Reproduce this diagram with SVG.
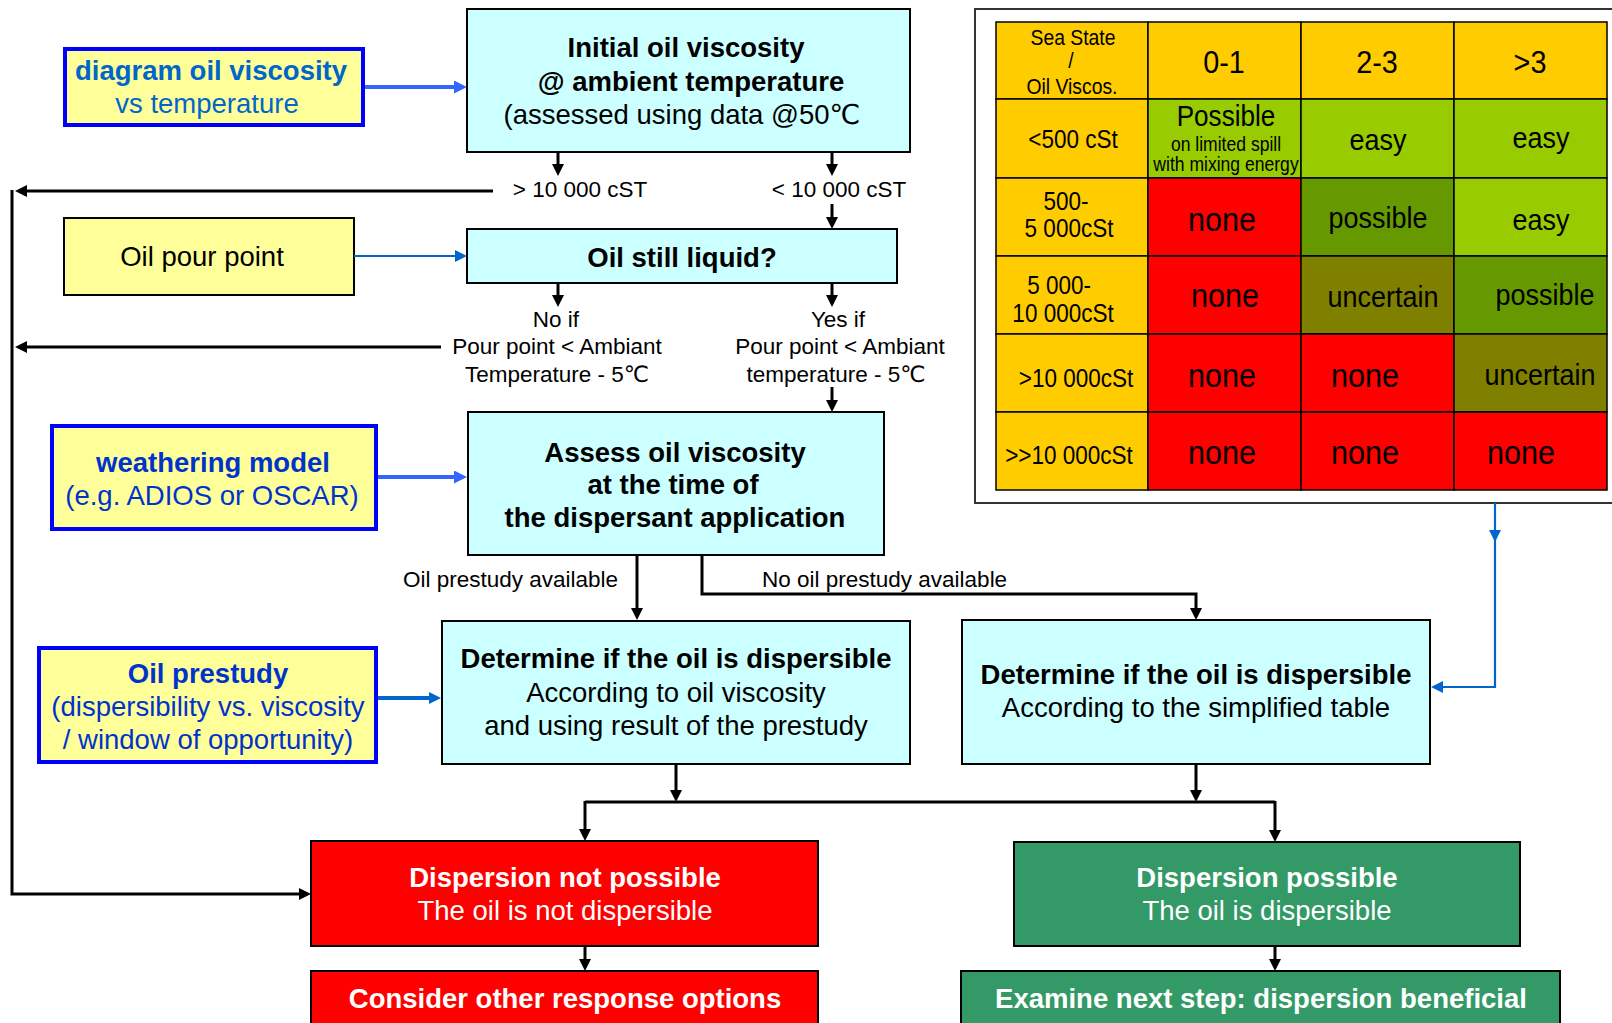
<svg xmlns="http://www.w3.org/2000/svg" width="1612" height="1023" viewBox="0 0 1612 1023">
  <style>
    text { font-family: "Liberation Sans", Arial, "DejaVu Sans", sans-serif; fill: #000; }
    .c { text-anchor: middle; }
    .b { font-weight: bold; }
    .f27 { font-size: 27.5px; }
    .f22 { font-size: 22.5px; }
    .w { fill: #fff; }
    .blue1 { fill: #0066CC; }
    .blue2 { fill: #0033CC; }
    .cyan { fill: #CCFFFF; stroke: #000; stroke-width: 2; }
    .yel { fill: #FFFF99; stroke: #000; stroke-width: 2; }
    .yelb { fill: #FFFF99; stroke: #0000FF; stroke-width: 4; }
    .red { fill: #FF0000; stroke: #000; stroke-width: 2; }
    .grn { fill: #339966; stroke: #000; stroke-width: 2; }
    .k { fill: none; stroke: #000; stroke-width: 3; marker-end: url(#ah); }
    .kn { fill: none; stroke: #000; stroke-width: 3; }
    .bl { fill: none; stroke: #3366FF; stroke-width: 4; marker-end: url(#ahb); }
    .bc { fill: none; stroke: #0066CC; stroke-width: 4; marker-end: url(#ahc); }
    .bt { fill: none; stroke: #0066CC; stroke-width: 2.2; marker-end: url(#ahc); }
    .cell { stroke: #000; stroke-width: 1.5; }
    .hd { fill: #FFCC00; }
    .lg { fill: #99CC00; }
    .dg { fill: #669900; }
    .ol { fill: #808000; }
    .rd { fill: #FF0000; }
  </style>
  <defs>
    <marker id="ah" viewBox="0 0 12 12" markerWidth="12" markerHeight="12" refX="8" refY="6" orient="auto" markerUnits="userSpaceOnUse">
      <path d="M0,0 L12,6 L0,12 z" fill="#000"/>
    </marker>
    <marker id="ahb" viewBox="0 0 13 13" markerWidth="13" markerHeight="13" refX="9" refY="6.5" orient="auto" markerUnits="userSpaceOnUse">
      <path d="M0,0 L13,6.5 L0,13 z" fill="#3366FF"/>
    </marker>
    <marker id="ahc" viewBox="0 0 12 12" markerWidth="12" markerHeight="12" refX="8" refY="6" orient="auto" markerUnits="userSpaceOnUse">
      <path d="M0,0 L12,6 L0,12 z" fill="#0066CC"/>
    </marker>
  </defs>

  <rect width="1612" height="1023" fill="#fff"/>

  <!-- input boxes (left column) -->
  <g id="diagram-viscosity">
    <rect class="yelb" x="65" y="49" width="298" height="76"/>
    <text class="c b f27 blue1" x="211" y="80">diagram oil viscosity</text>
    <text class="c f27 blue1" x="207" y="113">vs temperature</text>
  </g>
  <g id="pour-point">
    <rect class="yel" x="64" y="218" width="290" height="77"/>
    <text class="c f27" x="202" y="266">Oil pour point</text>
  </g>
  <g id="weathering-model">
    <rect class="yelb" x="52" y="426" width="324" height="103"/>
    <text class="c b f27 blue2" x="213" y="472">weathering model</text>
    <text class="c f27 blue2" x="212" y="505">(e.g. ADIOS or OSCAR)</text>
  </g>
  <g id="oil-prestudy">
    <rect class="yelb" x="39" y="648" width="337" height="114"/>
    <text class="c b f27 blue2" x="208" y="683">Oil prestudy</text>
    <text class="c f27 blue2" x="208" y="716">(dispersibility vs. viscosity</text>
    <text class="c f27 blue2" x="208" y="749">/ window of opportunity)</text>
  </g>

  <!-- decision boxes -->
  <g id="initial-viscosity">
    <rect class="cyan" x="467" y="9" width="443" height="143"/>
    <text class="c b f27" x="686" y="57">Initial oil viscosity</text>
    <text class="c b f27" x="691" y="91">@ ambient temperature</text>
    <text class="c f27" x="682" y="124">(assessed using data @50℃</text>
  </g>
  <g id="oil-still-liquid">
    <rect class="cyan" x="467" y="229" width="430" height="54"/>
    <text class="c b f27" x="682" y="267">Oil still liquid?</text>
  </g>
  <g id="assess-viscosity">
    <rect class="cyan" x="468" y="412" width="416" height="143"/>
    <text class="c b f27" x="675" y="462">Assess oil viscosity</text>
    <text class="c b f27" x="673" y="494">at the time of</text>
    <text class="c b f27" x="675" y="527">the dispersant application</text>
  </g>
  <g id="determine-prestudy">
    <rect class="cyan" x="442" y="621" width="468" height="143"/>
    <text class="c b f27" x="676" y="668">Determine if the oil is dispersible</text>
    <text class="c f27" x="676" y="702">According to oil viscosity</text>
    <text class="c f27" x="676" y="735">and using result of the prestudy</text>
  </g>
  <g id="determine-table">
    <rect class="cyan" x="962" y="620" width="468" height="144"/>
    <text class="c b f27" x="1196" y="684">Determine if the oil is dispersible</text>
    <text class="c f27" x="1196" y="717">According to the simplified table</text>
  </g>

  <!-- outcome boxes -->
  <g id="not-possible">
    <rect class="red" x="311" y="841" width="507" height="105"/>
    <text class="c b f27 w" x="565" y="887">Dispersion not possible</text>
    <text class="c f27 w" x="565" y="920">The oil is not dispersible</text>
  </g>
  <g id="other-options">
    <rect class="red" x="311" y="971" width="507" height="60"/>
    <text class="c b f27 w" x="565" y="1008">Consider other response options</text>
  </g>
  <g id="possible">
    <rect class="grn" x="1014" y="842" width="506" height="104"/>
    <text class="c b f27 w" x="1267" y="887">Dispersion possible</text>
    <text class="c f27 w" x="1267" y="920">The oil is dispersible</text>
  </g>
  <g id="next-step">
    <rect class="grn" x="961" y="971" width="599" height="60"/>
    <text class="c b f27 w" x="1261" y="1008">Examine next step: dispersion beneficial</text>
  </g>

  <!-- simplified dispersibility table: sea state vs oil viscosity -->
  <g id="sea-state-table">
    <rect x="975" y="9" width="660" height="494" fill="#fff" stroke="#333" stroke-width="2"/>
    <!-- header row -->
    <rect class="cell hd" x="996" y="22" width="152" height="77"/>
    <rect class="cell hd" x="1148" y="22" width="153" height="77"/>
    <rect class="cell hd" x="1301" y="22" width="153" height="77"/>
    <rect class="cell hd" x="1454" y="22" width="153" height="77"/>
    <!-- row <500 -->
    <rect class="cell hd" x="996" y="99" width="152" height="79"/>
    <rect class="cell lg" x="1148" y="99" width="153" height="79"/>
    <rect class="cell lg" x="1301" y="99" width="153" height="79"/>
    <rect class="cell lg" x="1454" y="99" width="153" height="79"/>
    <!-- row 500-5000 -->
    <rect class="cell hd" x="996" y="178" width="152" height="78"/>
    <rect class="cell rd" x="1148" y="178" width="153" height="78"/>
    <rect class="cell dg" x="1301" y="178" width="153" height="78"/>
    <rect class="cell lg" x="1454" y="178" width="153" height="78"/>
    <!-- row 5000-10000 -->
    <rect class="cell hd" x="996" y="256" width="152" height="78"/>
    <rect class="cell rd" x="1148" y="256" width="153" height="78"/>
    <rect class="cell ol" x="1301" y="256" width="153" height="78"/>
    <rect class="cell dg" x="1454" y="256" width="153" height="78"/>
    <!-- row >10000 -->
    <rect class="cell hd" x="996" y="334" width="152" height="78"/>
    <rect class="cell rd" x="1148" y="334" width="153" height="78"/>
    <rect class="cell rd" x="1301" y="334" width="153" height="78"/>
    <rect class="cell ol" x="1454" y="334" width="153" height="78"/>
    <!-- row >>10000 -->
    <rect class="cell hd" x="996" y="412" width="152" height="78"/>
    <rect class="cell rd" x="1148" y="412" width="153" height="78"/>
    <rect class="cell rd" x="1301" y="412" width="153" height="78"/>
    <rect class="cell rd" x="1454" y="412" width="153" height="78"/>

    <!-- cell texts, slightly condensed -->
    <g class="c">
      <text transform="translate(1073 45) scale(0.9 1)" font-size="21.5">Sea State</text>
      <text transform="translate(1071 68) scale(0.9 1)" font-size="21.5">/</text>
      <text transform="translate(1072 94) scale(0.9 1)" font-size="21.5">Oil Viscos.</text>
      <text transform="translate(1224 73) scale(0.9 1)" font-size="32">0-1</text>
      <text transform="translate(1377 73) scale(0.9 1)" font-size="32">2-3</text>
      <text transform="translate(1530 73) scale(0.9 1)" font-size="32">&gt;3</text>

      <text transform="translate(1073 148) scale(0.9 1)" font-size="25">&lt;500 cSt</text>
      <text transform="translate(1226 126) scale(0.9 1)" font-size="29">Possible</text>
      <text transform="translate(1226 151) scale(0.9 1)" font-size="19.5">on limited spill</text>
      <text transform="translate(1226 171) scale(0.9 1)" font-size="19.5">with mixing energy</text>
      <text transform="translate(1378 150) scale(0.9 1)" font-size="30">easy</text>
      <text transform="translate(1541 148) scale(0.9 1)" font-size="30">easy</text>

      <text transform="translate(1066 210) scale(0.9 1)" font-size="25">500-</text>
      <text transform="translate(1069 237) scale(0.9 1)" font-size="25">5 000cSt</text>
      <text transform="translate(1222 231) scale(0.9 1)" font-size="34">none</text>
      <text transform="translate(1378 228) scale(0.9 1)" font-size="30">possible</text>
      <text transform="translate(1541 230) scale(0.9 1)" font-size="30">easy</text>

      <text transform="translate(1059 294) scale(0.9 1)" font-size="25">5 000-</text>
      <text transform="translate(1063 322) scale(0.9 1)" font-size="25">10 000cSt</text>
      <text transform="translate(1225 307) scale(0.9 1)" font-size="34">none</text>
      <text transform="translate(1383 307) scale(0.9 1)" font-size="30">uncertain</text>
      <text transform="translate(1545 305) scale(0.9 1)" font-size="30">possible</text>

      <text transform="translate(1076 387) scale(0.9 1)" font-size="25">&gt;10 000cSt</text>
      <text transform="translate(1222 387) scale(0.9 1)" font-size="34">none</text>
      <text transform="translate(1365 387) scale(0.9 1)" font-size="34">none</text>
      <text transform="translate(1540 385) scale(0.9 1)" font-size="30">uncertain</text>

      <text transform="translate(1069 464) scale(0.9 1)" font-size="25">&gt;&gt;10 000cSt</text>
      <text transform="translate(1222 464) scale(0.9 1)" font-size="34">none</text>
      <text transform="translate(1365 464) scale(0.9 1)" font-size="34">none</text>
      <text transform="translate(1521 464) scale(0.9 1)" font-size="34">none</text>
    </g>
  </g>

  <!-- connectors -->
  <g id="connectors">
    <!-- from initial viscosity -->
    <path class="k" d="M558,152 V172"/>
    <path class="k" d="M832,152 V172"/>
    <path class="k" d="M832,204 V225"/>
    <!-- from oil still liquid -->
    <path class="k" d="M558,283 V303"/>
    <path class="k" d="M832,283 V303"/>
    <path class="k" d="M832,387 V408"/>
    <!-- return lines to the left bus -->
    <path class="k" d="M493,191 H19"/>
    <path class="k" d="M441,347 H19"/>
    <path class="k" d="M12,190 V894 H307"/>
    <!-- from assess viscosity -->
    <path class="k" d="M637,555 V616"/>
    <path class="k" d="M702,555 V594 H1196 V616"/>
    <!-- merging towards the outcomes -->
    <path class="k" d="M676,764 V798"/>
    <path class="k" d="M1196,764 V798"/>
    <path class="kn" d="M585,802 H1275"/>
    <path class="k" d="M585,801 V837"/>
    <path class="k" d="M1275,801 V838"/>
    <path class="k" d="M585,946 V967"/>
    <path class="k" d="M1275,946 V967"/>

    <!-- blue input arrows -->
    <path class="bl" d="M365,87 H463"/>
    <path class="bt" d="M354,256 H463"/>
    <path class="bl" d="M378,477 H463"/>
    <path class="bc" d="M378,698 H437"/>
    <path class="bt" d="M1495,503 V538"/>
    <path class="bt" d="M1495,536 V687 H1435"/>

    <!-- connector labels -->
    <text class="c f22" x="580" y="197">&gt; 10 000 cST</text>
    <text class="c f22" x="839" y="197">&lt; 10 000 cST</text>
    <text class="c f22" x="556" y="327">No if</text>
    <text class="c f22" x="557" y="354">Pour point &lt; Ambiant</text>
    <text class="c f22" x="557" y="382">Temperature - 5℃</text>
    <text class="c f22" x="838" y="327">Yes if</text>
    <text class="c f22" x="840" y="354">Pour point &lt; Ambiant</text>
    <text class="c f22" x="836" y="382">temperature - 5℃</text>
    <text class="f22" x="403" y="587">Oil prestudy available</text>
    <text class="f22" x="762" y="587">No oil prestudy available</text>
  </g>
</svg>
